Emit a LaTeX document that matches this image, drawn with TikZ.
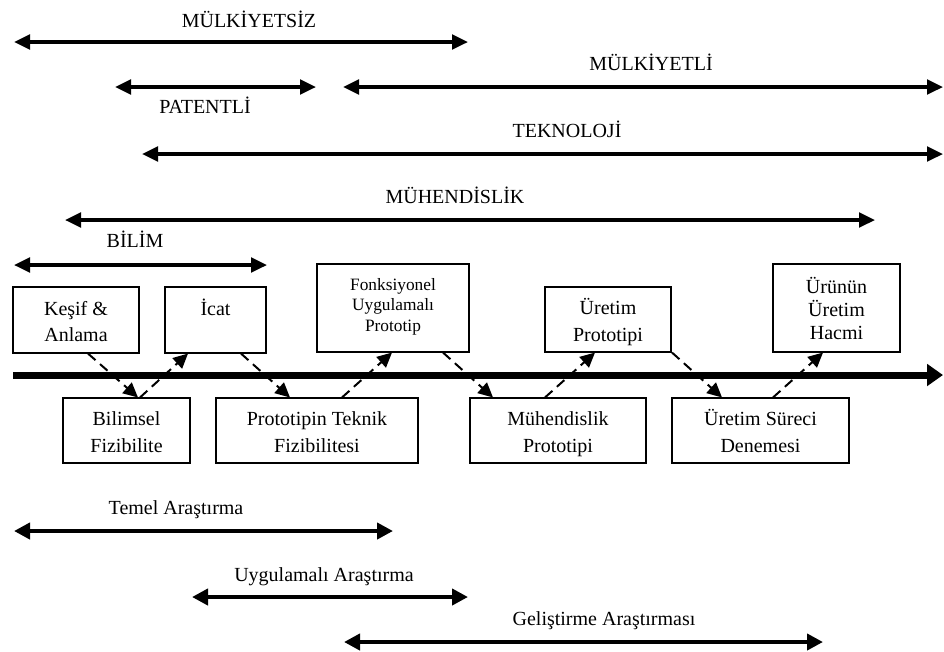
\documentclass[tikz,border=0pt]{standalone}
\usepackage{fontspec}
\setmainfont{Liberation Serif}
\usetikzlibrary{arrows.meta,calc}
\newcommand\boxtop{\rule{0pt}{16pt}}
\newcommand\boxbot{\rule[-3.5pt]{0pt}{3.5pt}}
\newcommand\fboxtop{\rule{0pt}{11pt}}
\newcommand\fboxbot{\rule[-7pt]{0pt}{7pt}}
\begin{document}
\begin{tikzpicture}[x=0.75pt,y=-0.75pt,
  lbl/.style={anchor=base,inner sep=0pt,font=\fontsize{15}{18}\selectfont},
  box/.style={draw,line width=0.8pt,inner sep=0pt,align=center,font=\fontsize{15}{20}\selectfont},
  spanarrow/.style={line width=2.5pt,{Triangle[length=12pt,width=11pt]}-{Triangle[length=12pt,width=11pt]}},
  spanarrowb/.style={line width=3pt,{Triangle[length=12pt,width=12pt]}-{Triangle[length=12pt,width=12pt]}},
  mainarrow/.style={line width=5.25pt,-{Triangle[length=12pt,width=16pt]}},
  flow/.style={line width=1.5pt,dash pattern=on 7.5pt off 4.5pt,-{Triangle[length=11pt,width=10.5pt]}}]
\useasboundingbox (0,0) rectangle (944,651);

% span arrows (top)
\coordinate (m1a) at (14,42);   \coordinate (m1b) at (468,42);
\coordinate (pa) at (115,87);   \coordinate (pb) at (316,87);
\coordinate (m2a) at (343,87);  \coordinate (m2b) at (943,87);
\coordinate (ta) at (142,154);  \coordinate (tb) at (943,154);
\coordinate (ma) at (65,220);   \coordinate (mb) at (875,220);
\coordinate (ba) at (14,265);   \coordinate (bb) at (267,265);
\draw[spanarrow] (m1a) -- (m1b);
\draw[spanarrow] (pa) -- (pb);
\draw[spanarrow] (m2a) -- (m2b);
\draw[spanarrow] (ta) -- (tb);
\draw[spanarrow] (ma) -- (mb);
\draw[spanarrow] (ba) -- (bb);

\node[lbl] (lmulksiz) at (249,27) {MÜLKİYETSİZ};
\node[lbl] (lpatent) at (205,113) {PATENTLİ};
\node[lbl] (lmulkli) at (651,70) {MÜLKİYETLİ};
\node[lbl] (ltek) at (567,137) {TEKNOLOJİ};
\node[lbl] (lmuh) at (455,203) {MÜHENDİSLİK};
\node[lbl] (lbilim) at (135,247) {BİLİM};

% main axis
\coordinate (axa) at (13,375); \coordinate (axb) at (943,375);
\draw[mainarrow] (axa) -- (axb);

% top boxes
\node[box,minimum width=94.5pt,minimum height=49.5pt] (kesif) at (76,320) {\boxtop Keşif \&\\Anlama\boxbot};
\node[box,minimum width=75.75pt,minimum height=49.5pt] (icat) at (215.5,320) {\boxtop İcat\\\mbox{}\boxbot};
\node[box,minimum width=114pt,minimum height=66pt,font=\fontsize{13}{15.4}\selectfont] (fonk) at (393,308) {\fboxtop Fonksiyonel\\Uygulamalı\\Prototip\fboxbot};
\node[box,minimum width=94.5pt,minimum height=48.75pt] (uretp) at (608,319.5) {\boxtop Üretim\\Prototipi\boxbot};
\node[box,minimum width=95.25pt,minimum height=66pt,font=\fontsize{15}{17}\selectfont] (urunun) at (836.5,308) {\boxtop Ürünün\\Üretim\\Hacmi\boxbot};

% bottom boxes
\node[box,minimum width=95.25pt,minimum height=48.75pt] (bilimsel) at (126.5,430.5) {\boxtop Bilimsel\\Fizibilite\boxbot};
\node[box,minimum width=151.5pt,minimum height=48.75pt] (proto) at (317,430.5) {\boxtop Prototipin Teknik\\Fizibilitesi\boxbot};
\node[box,minimum width=132pt,minimum height=48.75pt] (muh) at (558,430.5) {\boxtop Mühendislik\\Prototipi\boxbot};
\node[box,minimum width=132.75pt,minimum height=48.75pt] (uretsur) at (760.5,430.5) {\boxtop Üretim Süreci\\Denemesi\boxbot};

% dashed flow arrows
\draw[flow] ($(kesif.south)+(12,0)$) -- ($(bilimsel.north)+(11.5,0)$);
\draw[flow] ($(bilimsel.north)+(13.5,0)$) -- ($(icat.south)+(-27.5,0)$);
\draw[flow] ($(icat.south)+(25.5,0)$) -- ($(proto.north)+(-27,0)$);
\draw[flow] ($(proto.north)+(25,0)$) -- ($(fonk.south)+(-1,0)$);
\draw[flow] ($(fonk.south)+(50,0)$) -- ($(muh.north)+(-65,0)$);
\draw[flow] ($(muh.north)+(-13,0)$) -- ($(uretp.south)+(-13,0)$);
\draw[flow] ($(uretp.south)+(64,0)$) -- ($(uretsur.north)+(-38.5,0)$);
\draw[flow] ($(uretsur.north)+(12.5,0)$) -- ($(urunun.south)+(-13.5,0)$);

% bottom span arrows
\coordinate (tea) at (14,531);  \coordinate (teb) at (393,531);
\coordinate (uya) at (192,597); \coordinate (uyb) at (468,597);
\coordinate (gea) at (344,642); \coordinate (geb) at (823,642);
\draw[spanarrowb] (tea) -- (teb);
\draw[spanarrowb] (uya) -- (uyb);
\draw[spanarrowb] (gea) -- (geb);
\node[lbl] (ltemel) at (176,514) {Temel Araştırma};
\node[lbl] (luyg) at (324,581) {Uygulamalı Araştırma};
\node[lbl] (lgel) at (604,625) {Geliştirme Araştırması};
\end{tikzpicture}
\end{document}
